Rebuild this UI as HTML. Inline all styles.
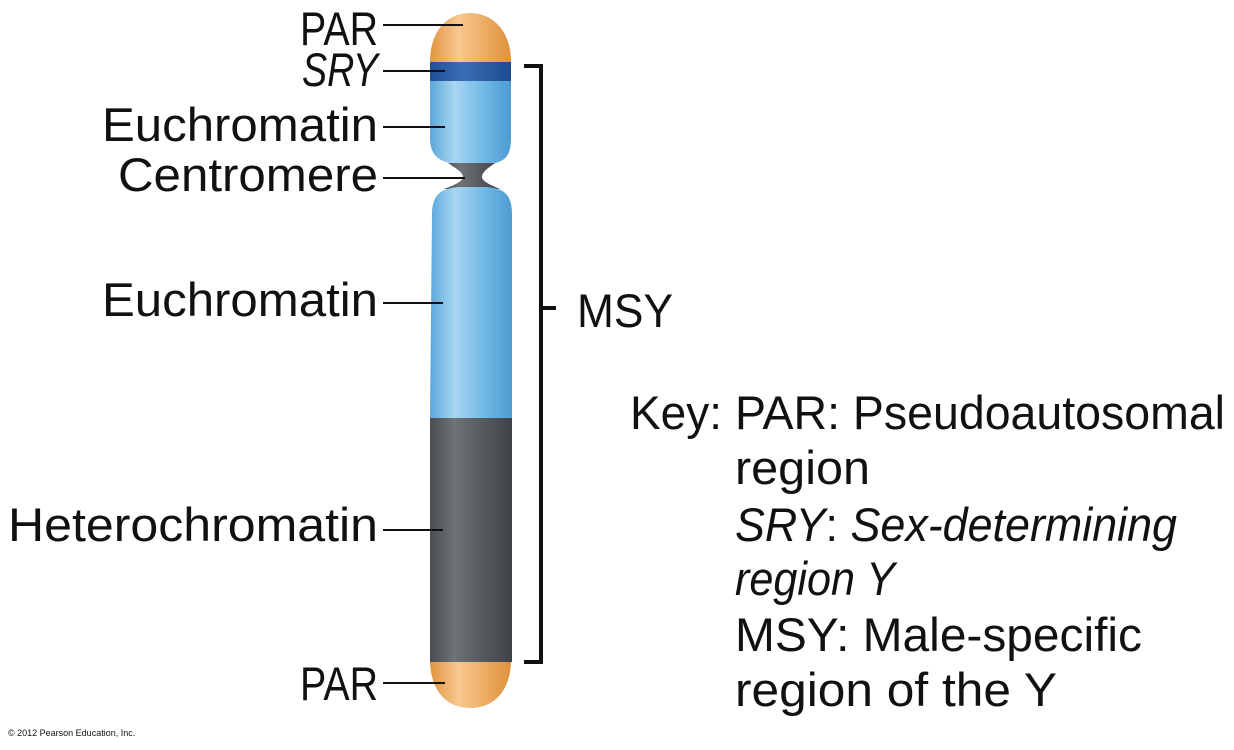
<!DOCTYPE html>
<html><head><meta charset="utf-8"><style>
html,body{margin:0;padding:0;background:#fff;}
svg{display:block;}
text{font-family:"Liberation Sans",sans-serif;fill:#111;font-size:47px;}
</style></head><body>
<svg width="1234" height="750" viewBox="0 0 1234 750" xmlns="http://www.w3.org/2000/svg">
<defs>
<linearGradient id="or" x1="0" x2="1"><stop offset="0" stop-color="#e0953f"/><stop offset="0.35" stop-color="#f7c890"/><stop offset="1" stop-color="#e0913a"/></linearGradient>
<linearGradient id="bl" x1="0" x2="1"><stop offset="0" stop-color="#5aa6d9"/><stop offset="0.3" stop-color="#a9d6f2"/><stop offset="0.7" stop-color="#6cb6e4"/><stop offset="1" stop-color="#4f9bd0"/></linearGradient>
<linearGradient id="db" x1="0" x2="1"><stop offset="0" stop-color="#1f4f98"/><stop offset="0.4" stop-color="#3b6fb5"/><stop offset="1" stop-color="#1c4a90"/></linearGradient>
<linearGradient id="gr" x1="0" x2="1"><stop offset="0" stop-color="#4a4d52"/><stop offset="0.3" stop-color="#6e7378"/><stop offset="1" stop-color="#3e4146"/></linearGradient>
</defs>
<path d="M430 62 C430 30 448 13 470 13 C492 13 511 30 511 62 Z" fill="url(#or)"/>
<rect x="430" y="62" width="81" height="19" fill="url(#db)"/>
<path d="M430 81 L511 81 L511 138 C511 158 503 162 490 164 L455 164 C440 162 430 156 430 138 Z" fill="url(#bl)"/>
<path d="M448 163 L495 163 C488 168 482 172 482 177 C482 181 490 185 500 189 L444 189 C455 185 463 181 463 177 C463 172 455 168 448 163 Z" fill="url(#gr)"/>
<path d="M432 215 C432 195 440 188 460 187 L485 187 C505 188 512 195 512 215 L512 418 L430 418 Z" fill="url(#bl)"/>
<rect x="430" y="418" width="82" height="244" fill="url(#gr)"/>
<path d="M430 662 L511 662 C510 690 495 708 470 708 C446 708 431 690 430 662 Z" fill="url(#or)"/>
<g stroke="#111" stroke-width="2">
<line x1="383" y1="25" x2="463" y2="25"/>
<line x1="383" y1="71" x2="445" y2="71"/>
<line x1="383" y1="127" x2="445" y2="127"/>
<line x1="383" y1="178" x2="465" y2="178"/>
<line x1="383" y1="303" x2="443" y2="303"/>
<line x1="383" y1="530" x2="443" y2="530"/>
<line x1="383" y1="683" x2="445" y2="683"/>
</g>
<path d="M524 66 L541 66 L541 662 L524 662 M541 308 L556 308" fill="none" stroke="#111" stroke-width="4"/>
<text x="300" y="45" textLength="78" lengthAdjust="spacingAndGlyphs">PAR</text>
<text x="302" y="86" font-style="italic" textLength="76" lengthAdjust="spacingAndGlyphs">SRY</text>
<text x="102" y="141" textLength="276" lengthAdjust="spacingAndGlyphs">Euchromatin</text>
<text x="118" y="191" textLength="260" lengthAdjust="spacingAndGlyphs">Centromere</text>
<text x="102" y="316" textLength="276" lengthAdjust="spacingAndGlyphs">Euchromatin</text>
<text x="8" y="541" textLength="370" lengthAdjust="spacingAndGlyphs">Heterochromatin</text>
<text x="300" y="700" textLength="78" lengthAdjust="spacingAndGlyphs">PAR</text>
<text x="577" y="327" textLength="96" lengthAdjust="spacingAndGlyphs">MSY</text>
<text x="630" y="429" textLength="92" lengthAdjust="spacingAndGlyphs">Key:</text>
<text x="735" y="429" textLength="490" lengthAdjust="spacingAndGlyphs">PAR: Pseudoautosomal</text>
<text x="735" y="484" textLength="135" lengthAdjust="spacingAndGlyphs">region</text>
<text x="735" y="541" textLength="442" lengthAdjust="spacingAndGlyphs"><tspan font-style="italic">SRY</tspan>: <tspan font-style="italic">Sex-determining</tspan></text>
<text x="735" y="595" font-style="italic" textLength="160" lengthAdjust="spacingAndGlyphs">region Y</text>
<text x="735" y="651" textLength="407" lengthAdjust="spacingAndGlyphs">MSY: Male-specific</text>
<text x="735" y="706" textLength="322" lengthAdjust="spacingAndGlyphs">region of the Y</text>
<text x="8" y="736" style="font-size:9px" fill="#444">© 2012 Pearson Education, Inc.</text>
</svg>
</body></html>
